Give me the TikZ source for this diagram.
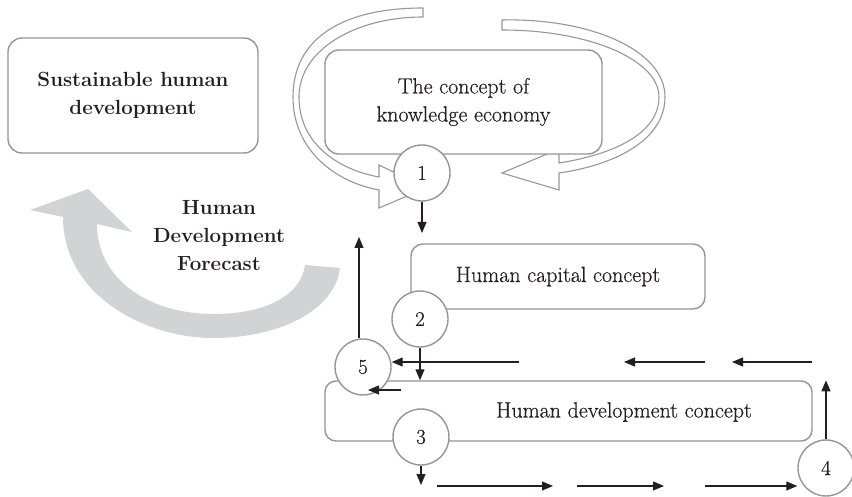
\documentclass[tikz,border=0pt]{standalone}
\usepackage{fontspec}
\setmainfont{Latin Modern Roman}
\newfontfamily\regfont{Latin Modern Roman}[FakeBold=0.5]
\usetikzlibrary{arrows.meta}
\definecolor{boxgray}{HTML}{939598}
\definecolor{swgray}{HTML}{979797}
\definecolor{ink}{HTML}{231F20}
\definecolor{bandgray}{HTML}{D1D3D4}
\tikzset{
  box/.style={draw=boxgray, line width=1.4pt, rounded corners=14pt, fill=white, inner sep=0pt},
  numcirc/.style={circle, draw=boxgray, line width=1.4pt, fill=white, minimum size=56pt, inner sep=0pt, text=ink, font=\regfont\fontsize{21}{21}\selectfont},
  arr/.style={draw=ink, line width=1.1pt, -{Triangle[length=11pt,width=9pt]}},
  swirl/.style={draw=swgray, line width=1.1pt, fill=white, line join=miter},
  regtext/.style={font=\regfont\fontsize{22}{28}\selectfont, text=ink, align=center},
  boldtext/.style={font=\fontsize{20.5}{28}\selectfont\bfseries, text=ink, align=center},
}
\begin{document}
\begin{tikzpicture}[x=1pt, y=-1pt]
\useasboundingbox (0,0) rectangle (852,497);
% big gray curved arrow
\fill[bandgray] (63,217) .. controls (63,295) and (145,338) .. (213,338)
  .. controls (280,338) and (335,310) .. (340,268) -- (305,265)
  .. controls (300,298) and (262,314) .. (213,314)
  .. controls (150,314) and (97,280) .. (97,224)
  -- (132,232) -- (88,189) -- (30,210) -- cycle;
\node[boldtext] (hdf) at (219,236) {Human\\Development\\Forecast};
% hollow swirl arrows
\draw[swirl] (423,8) .. controls (340,8) and (293,40) .. (293,97)
  .. controls (293,150) and (335,182) .. (379,190) -- (379,208) -- (426,188)
  -- (379,165) -- (379,177) .. controls (340,170) and (299,145) .. (299,97)
  .. controls (299,50) and (355,17) .. (423,17) -- cycle;
\draw[swirl] (502,20) .. controls (590,18) and (665,50) .. (665,97)
  .. controls (665,140) and (615,165) .. (559,173) -- (559,190) -- (502,173)
  -- (559,149) -- (559,163) .. controls (610,155) and (659,135) .. (659,97)
  .. controls (659,60) and (590,30) .. (502,30) -- cycle;
% boxes
\node[box, minimum width=250pt, minimum height=115pt, boldtext] (shd) at (133,95.5) {Sustainable human\\development};
\node[box, minimum width=277pt, minimum height=104pt, regtext] (ke) at (463.5,102) {The concept of\\knowledge economy};
\node[box, rounded corners=12pt, minimum width=294pt, minimum height=65pt, regtext] (hc) at (558,276.5) {Human capital concept};
\node[box, rounded corners=11pt, minimum width=487pt, minimum height=60pt] (hd) at (568.5,411) {};
\node[regtext] (hdt) at (624,412) {Human development concept};
% numbered circles
\node[numcirc] (c1) at (422,173) {1};
\node[numcirc] (c2) at (420,319) {2};
\node[numcirc] (c3) at (421,437) {3};
\node[numcirc] (c4) at (826,468) {4};
\node[numcirc] (c5) at (363,367) {5};
% connectors
\coordinate (a1) at (422,233);
\draw[arr] (c1.south) -- (a1);
\draw[arr] (c2.south) -- (c2.south |- hd.north);
\coordinate (u5) at (359,237);
\draw[arr] (c5.north -| u5) -- (u5);
\coordinate (t1) at (519,362);
\draw[arr] (t1) -- (t1 -| c5.east);
\coordinate (t2s) at (705,362);
\coordinate (t2e) at (624,362);
\draw[arr] (t2s) -- (t2e);
\coordinate (t3s) at (812,362);
\coordinate (t3e) at (732,362);
\draw[arr] (t3s) -- (t3e);
\coordinate (s1) at (401,390);
\coordinate (s2) at (368,390);
\draw[arr] (s1) -- (s2);
\coordinate (d3) at (421,485);
\draw[arr] (c3.south) -- (d3);
\coordinate (b1s) at (437,486);
\coordinate (b1e) at (553,486);
\draw[arr] (b1s) -- (b1e);
\coordinate (b2s) at (577,486);
\coordinate (b2e) at (664,486);
\draw[arr] (b2s) -- (b2e);
\coordinate (b3s) at (705,486);
\draw[arr] (b3s) -- (b3s -| c4.west);
\draw[arr] (c4.north) -- (c4.north |- hd.north);
\end{tikzpicture}
\end{document}
